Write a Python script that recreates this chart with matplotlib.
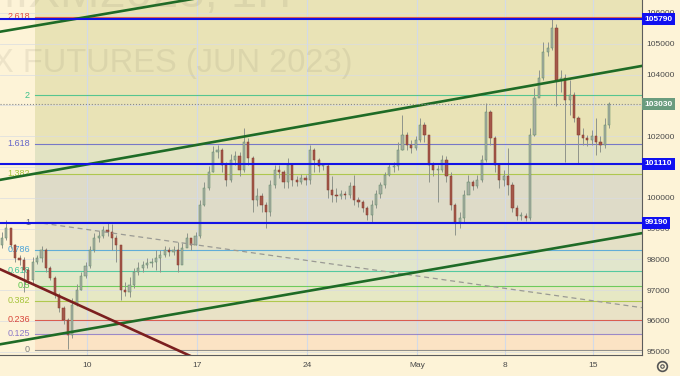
import matplotlib
matplotlib.use("Agg")
import matplotlib.pyplot as plt
import matplotlib.transforms as mtransforms
import numpy as np

plt.rcParams['font.family'] = ['Liberation Sans', 'DejaVu Sans']

# candles, 5 per trading day, day 0 = Apr 4
first_open = 98460
closes = [98690, 99020, 98460, 98040, 97980, 97650, 97330, 97910, 98040, 98300,
          97720, 97390, 96840, 96420, 96030, 95540, 96520, 97000, 97460, 97780,
          98300, 98690, 98760, 98950, 98890, 98690, 98460, 97000, 96940, 97170,
          97590, 97720, 97820, 97880, 97910, 98040, 98140, 98300, 98240, 98300,
          97820, 98370, 98690, 98460, 98760, 99760, 100320, 100840, 101480, 101550,
          101060, 100580, 101230, 101350, 100900, 101810, 101290, 99930, 100060, 99760,
          99540, 100410, 100900, 100840, 100510, 101060, 100580, 100510, 100640, 100580,
          101550, 101230, 101030, 101030, 100250, 100090, 100060, 100120, 100090, 100380,
          99930, 99860, 99670, 99440, 99760, 100120, 100410, 100740, 101000, 101030,
          101550, 102040, 101710, 101610, 101870, 102360, 102040, 101060, 100900, 100900,
          101230, 100710, 99760, 99210, 99340, 100090, 100510, 100380, 100580, 101230,
          102780, 101940, 101060, 100580, 100710, 100410, 99670, 99410, 99410, 99340,
          102040, 103240, 103890, 104730, 104860, 105510, 103820, 103890, 103170, 103340,
          102590, 102040, 101940, 101870, 102000, 101810, 101710, 102360, 103030]
highs = [98890, 99280, 98950, 98500, 98140, 98080, 97720, 98080, 98140, 98430,
         98370, 97780, 97460, 96910, 96480, 96090, 96740, 97200, 97590, 97910,
         98430, 98850, 98920, 99080, 99210, 99150, 98790, 98460, 97260, 97430,
         97720, 97910, 97950, 98040, 98040, 98300, 98300, 98430, 98400, 98430,
         98560, 98530, 98850, 98690, 98890, 99930, 100510, 101030, 101680, 101710,
         101610, 101160, 101420, 101520, 101480, 102260, 101940, 101350, 100320, 100150,
         99860, 100580, 101060, 101060, 100900, 101290, 101060, 100710, 100770, 100740,
         101710, 101610, 101290, 101130, 101100, 100710, 100320, 100250, 100220, 100510,
         100740, 100020, 99930, 99730, 99930, 100250, 100510, 100840, 101100, 101160,
         101810, 102690, 102130, 101870, 102000, 102590, 102460, 101870, 101160, 101060,
         101390, 101350, 100840, 99830, 99540, 100250, 100740, 100580, 100740, 101390,
         103080, 102850, 102000, 101030, 100900, 101610, 100510, 99760, 99540, 99500,
         102260, 103560, 104150, 105060, 105060, 105790, 105640, 104150, 104020, 103820,
         103430, 102650, 102260, 102040, 102200, 102590, 102000, 102590, 103110]
lows = [98370, 98630, 98370, 97910, 97820, 96940, 97200, 97230, 97850, 97910,
        97590, 97330, 96740, 96290, 95900, 95080, 95450, 96480, 97000, 97390,
        97720, 98240, 98560, 98690, 98760, 98300, 97910, 96680, 96810, 96780,
        97070, 97490, 97590, 97720, 97750, 97650, 97590, 98080, 98110, 98140,
        97590, 97910, 98430, 98300, 98460, 98690, 99730, 100250, 100840, 101290,
        100840, 100380, 100510, 101060, 100710, 100840, 101060, 99540, 99730, 99540,
        99020, 99410, 100320, 100640, 100320, 100320, 100380, 100380, 100450, 100410,
        100450, 100840, 100840, 100900, 99990, 99860, 99860, 99960, 99960, 99990,
        99760, 99700, 99540, 99280, 99180, 99670, 99990, 100320, 100710, 100840,
        100900, 101550, 101550, 101450, 101550, 101810, 101810, 100510, 100710, 99860,
        100840, 100510, 99600, 98790, 99020, 99210, 100250, 100250, 100320, 100510,
        101160, 101710, 100840, 100320, 100380, 100090, 99540, 99280, 99280, 99240,
        99280, 102000, 103300, 103820, 104600, 104800, 102980, 103430, 101160, 102690,
        102460, 101130, 101710, 101680, 101710, 101390, 101480, 101610, 102260]

tick_days = [4, 9, 14, 19, 23, 27]
tick_labels = ["10", "17", "24", "May", "8", "15"]
price_ticks = list(range(95000, 106001, 1000))

fib_low, fib_high = 95070, 99200
fib_ratios = [0, 0.125, 0.236, 0.382, 0.5, 0.618, 0.786, 1, 1.382, 1.618, 2, 2.618]
fib_labels = ["0", "0.125", "0.236", "0.382", "0.5", "0.618", "0.786", "1",
              "1.382", "1.618", "2", "2.618"]
fib_colors = ['#808080', '#8c7ac8', '#d9463a', '#a6c43a', '#59c64a', '#3cc49a',
              '#4aa3d9', '#6b6e78', '#a6c43a', '#6465c8', '#3cc08a', '#e0493d']
zone_colors = ['#fbe3c4', '#e6dccb', '#e9e2c6', '#e6e8c4', '#e2e8c8', '#e1e6cc',
               '#e4e0c6', '#dedbc8', '#e2e3c3', '#e9e3b6', '#e9e3b6', '#e9e3b6']

key_levels = [105790, 101110, 99190]
last_price = 103030

# drawn lines: (days, prices)
green_upper = ([0.05, 29.23], [105390, 108930])
green_mid = ([0.05, 29.23], [100580, 104280])
green_low = ([0.05, 29.23], [95240, 98850])
maroon_line = ([0.05, 9.14], [97680, 94720])
dashed_line = ([2.0, 29.23], [99170, 96430])

bg = '#fdf3d7'
fig = plt.figure(figsize=(6.8, 3.76), dpi=100, facecolor=bg)
ax = fig.add_axes([0, 21 / 376, 642 / 680, 355 / 376])
ax.set_facecolor(bg)
xmin, xmax = 0.05, 29.23
ymin, ymax = 94893, 106420
ax.set_xlim(xmin, xmax)
ax.set_ylim(ymin, ymax)

# fib zones
fib_x0 = 1.64
levels = [fib_low + r * (fib_high - fib_low) for r in fib_ratios]
tops = levels[1:] + [fib_low + 3.618 * (fib_high - fib_low)]
for lo, hi, zc in zip(levels, tops, zone_colors):
    ax.fill_between([fib_x0, xmax], lo, hi, color=zc, lw=0, zorder=0.5)

# grid
for p in price_ticks:
    ax.axhline(p, color='#d9dce2', lw=0.6, alpha=0.8, zorder=0.8)
for d in tick_days:
    ax.axvline(d, color='#d3dae8', lw=0.8, zorder=0.8)

for lev, col, lab in zip(levels, fib_colors, fib_labels):
    ax.plot([fib_x0, xmax], [lev, lev], color=col, lw=0.8, alpha=0.85, zorder=1)
    ax.text(1.41, lev, lab, color=col, fontsize=6.5, ha='right', va='center', zorder=1)

# watermark (first line mostly cut off at the top)
fig.text(352 / 680, 1 - 72 / 376, "MIX FUTURES (JUN 2023)", ha='right', va='baseline',
         fontsize=23.5, color='#6e6a55', alpha=0.11, zorder=0)
fig.text(291 / 680, 1 + 27 / 376, "MIXM2023, 1H", ha='right', va='top',
         fontsize=34, color='#6e6a55', alpha=0.11, zorder=0)

# candles
n = len(closes)
x = 0.14 + 0.2 * np.arange(n)
opens = np.array([first_open] + closes[:-1])
c = np.array(closes)
up = c >= opens
ax.vlines(x, lows, highs, color='#8f948b', lw=0.7, zorder=3)
body_lo = np.minimum(opens, c)
body_h = np.maximum(np.abs(c - opens), 20)
ax.bar(x[up], body_h[up], bottom=body_lo[up], width=0.1, color='#a8ada2',
       edgecolor='#5b8a66', lw=0.35, zorder=4)
ax.bar(x[~up], body_h[~up], bottom=body_lo[~up], width=0.1, color='#a4584a',
       edgecolor='#84392c', lw=0.35, zorder=4)

# trend lines
for (lx, ly) in [green_upper, green_mid, green_low]:
    ax.plot(lx, ly, color='#1e6b26', lw=1.9, zorder=6)
ax.plot(*maroon_line, color='#7b1f1f', lw=1.9, zorder=6)
ax.plot(*dashed_line, color='#9a9a94', lw=0.9, ls=(0, (4, 3)), zorder=5)

# horizontal levels
for lev in key_levels:
    ax.axhline(lev, color='#1212e6', lw=1.5, zorder=7)
ax.axhline(last_price, color='#8a8a8a', lw=0.8, ls=':', zorder=7)

# axes styling
for s in ['left', 'top']:
    ax.spines[s].set_visible(False)
ax.spines['right'].set_color('#5c5c5c')
ax.spines['bottom'].set_color('#5c5c5c')
ax.spines['right'].set_linewidth(0.8)
ax.spines['bottom'].set_linewidth(0.8)
ax.yaxis.tick_right()
ax.set_yticks(price_ticks)
ax.set_yticklabels([str(p) for p in price_ticks])
ax.tick_params(axis='y', length=0, pad=3, labelsize=6, labelcolor='#4a4a4a')
ax.set_xticks(tick_days)
ax.set_xticklabels(tick_labels)
ax.tick_params(axis='x', length=0, pad=5, labelsize=6, labelcolor='#4a4a4a')

trans = mtransforms.blended_transform_factory(ax.transAxes, ax.transData)
for lev in key_levels:
    ax.text(1.004, lev, str(lev), transform=trans, ha='left', va='center', fontsize=6,
            fontweight='bold', color='white', zorder=10, clip_on=False,
            bbox=dict(boxstyle='square,pad=0.3', fc='#1010f0', ec='none'))
ax.text(1.004, last_price, str(last_price), transform=trans, ha='left', va='center',
        fontsize=6, fontweight='bold', color='white', zorder=10, clip_on=False,
        bbox=dict(boxstyle='square,pad=0.3', fc='#6a9c7e', ec='none'))

# settings gear
ax.plot([662 / 642], [-11 / 355], transform=ax.transAxes, marker='o', ms=7,
        mfc='none', mec='#555555', mew=1.2, clip_on=False)
ax.plot([662 / 642], [-11 / 355], transform=ax.transAxes, marker='o', ms=2.5,
        mfc='none', mec='#555555', mew=0.8, clip_on=False)

fig.savefig('out.png', dpi=100, facecolor=bg)
